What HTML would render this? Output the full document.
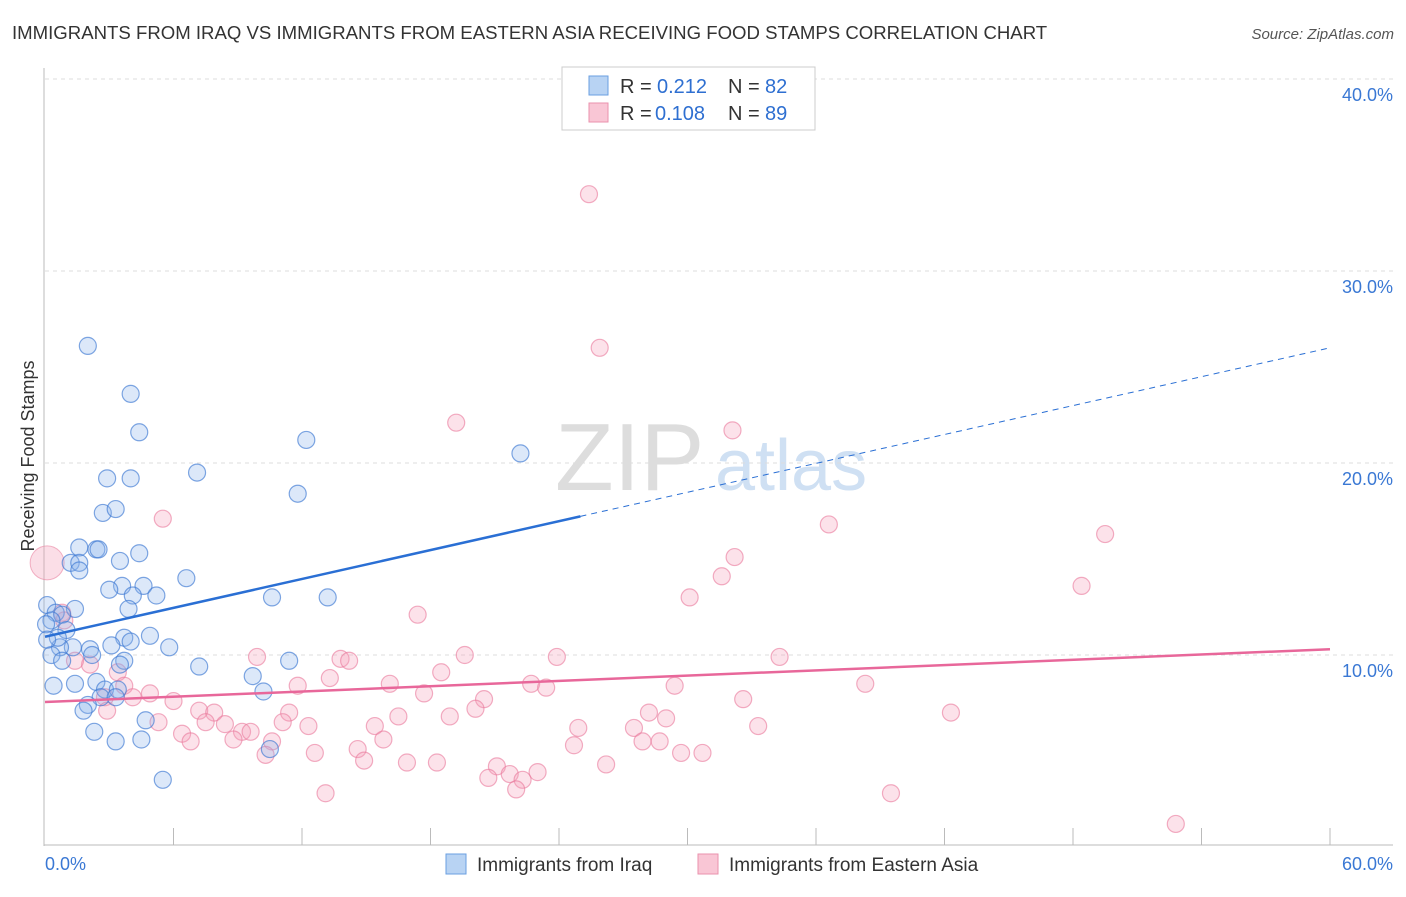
<!DOCTYPE html>
<html><head><meta charset="utf-8"><style>
body{margin:0;background:#fff;font-family:"Liberation Sans",sans-serif}
svg text{font-family:"Liberation Sans",sans-serif}
</style></head><body>
<svg id="chart" width="1406" height="892">
<text x="12" y="39" font-size="18.6" fill="#333">IMMIGRANTS FROM IRAQ VS IMMIGRANTS FROM EASTERN ASIA RECEIVING FOOD STAMPS CORRELATION CHART</text>
<text x="1394" y="39" font-size="15" fill="#555" font-style="italic" text-anchor="end">Source: ZipAtlas.com</text>
<g><text x="555" y="490" font-size="96" fill="#ddd" font-family="Liberation Serif">ZIP</text><text x="715" y="490" font-size="72" fill="#cfe0f3">atlas</text></g>
<g id="grid"></g><g id="axes"></g><g id="pts"></g><g id="trend"></g>
<text x="34" y="456" font-size="18" fill="#333" transform="rotate(-90 34 456)" text-anchor="middle">Receiving Food Stamps</text>
<g>
<rect x="562" y="67" width="253" height="63" fill="#fff" stroke="#ccc"/>
<rect x="589" y="76" width="19" height="19" fill="#b8d3f3" stroke="#6a9fe0"/>
<rect x="589" y="103" width="19" height="19" fill="#f9c6d5" stroke="#ea92ad"/>
<text x="620" y="93" font-size="20" fill="#333">R =</text><text x="657" y="93" font-size="20" fill="#2e6fd1">0.212</text>
<text x="728" y="93" font-size="20" fill="#333">N =</text><text x="765" y="93" font-size="20" fill="#2e6fd1">82</text>
<text x="620" y="120" font-size="20" fill="#333">R =</text><text x="655" y="120" font-size="20" fill="#2e6fd1">0.108</text>
<text x="728" y="120" font-size="20" fill="#333">N =</text><text x="765" y="120" font-size="20" fill="#2e6fd1">89</text>
</g>
<g>
<rect x="446" y="854" width="20" height="20" fill="#b8d3f3" stroke="#6a9fe0"/>
<text x="477" y="871" font-size="19" fill="#333">Immigrants from Iraq</text>
<rect x="698" y="854" width="20" height="20" fill="#f9c6d5" stroke="#ea92ad"/>
<text x="729" y="871" font-size="19" fill="#333">Immigrants from Eastern Asia</text>
</g>
</svg>
<script>
const blueX=[2.0,4.0,4.4,12.2,7.1,2.9,4.0,11.8,22.2,2.7,3.3,2.4,1.6,2.5,4.4,3.5,1.2,1.6,1.6,6.6,3.6,3.0,4.6,4.1,5.2,10.6,13.2,3.9,1.4,0.1,0.5,0.8,1.0,0.3,0.05,4.9,3.7,5.8,4.0,3.1,2.1,1.3,0.7,0.3,2.2,3.7,3.5,7.2,11.4,9.7,2.4,0.4,1.4,2.8,3.4,10.2,2.6,3.3,2.0,1.8,4.7,2.3,3.3,4.5,10.5,5.5,0.8,0.6,0.1];
const blueY=[26.1,23.6,21.6,21.2,19.5,19.2,19.2,18.4,20.5,17.4,17.6,15.5,15.6,15.5,15.3,14.9,14.8,14.8,14.4,14.0,13.6,13.4,13.6,13.1,13.1,13.0,13.0,12.4,12.4,12.6,12.2,12.1,11.3,11.8,11.6,11.0,10.9,10.4,10.7,10.5,10.3,10.4,10.4,10.0,10.0,9.7,9.5,9.4,9.7,8.9,8.6,8.4,8.5,8.2,8.2,8.1,7.8,7.8,7.4,7.1,6.6,6.0,5.5,5.6,5.1,3.5,9.7,10.9,10.8];
const pinkX=[25.4,25.9,19.2,32.1,5.5,36.6,49.5,32.2,31.6,48.4,30.1,17.4,0.8,0.9,9.9,13.8,14.2,19.6,23.9,34.3,18.5,2.1,1.4,3.4,13.3,16.1,11.8,22.7,23.4,29.4,38.3,3.7,2.8,4.1,4.9,17.7,20.5,32.6,2.9,6.0,7.2,7.9,11.4,20.1,16.5,18.9,28.2,29.0,42.3,5.3,7.5,8.4,11.1,12.3,15.4,24.9,27.5,33.3,6.4,9.2,9.6,6.8,8.8,10.6,15.8,24.7,27.9,28.7,14.6,10.3,12.6,14.9,16.9,18.3,26.2,29.7,30.7,21.1,20.7,21.7,23.0,22.3,22.0,13.1,39.5,52.8];
const pinkY=[34.0,26.0,22.1,21.7,17.1,16.8,16.3,15.1,14.1,13.6,13.0,12.1,12.2,11.8,9.9,9.8,9.7,10.0,9.9,9.9,9.1,9.5,9.7,9.1,8.8,8.5,8.4,8.5,8.3,8.4,8.5,8.4,7.8,7.8,8.0,8.0,7.7,7.7,7.1,7.6,7.1,7.0,7.0,7.2,6.8,6.8,7.0,6.7,7.0,6.5,6.5,6.4,6.5,6.3,6.3,6.2,6.2,6.3,5.9,6.0,6.0,5.5,5.6,5.5,5.6,5.3,5.5,5.5,5.1,4.8,4.9,4.5,4.4,4.4,4.3,4.9,4.9,4.2,3.6,3.8,3.9,3.5,3.0,2.8,2.8,1.2];
const bigPink=[0.1,14.8];
const yTicks=[10,20,30,40];
const xTicks=[0,6,12,18,24,30,36,42,48,54,60];
const blueTrend=[10.95,26.0];const blueSolidEnd=25.0;
const pinkTrend=[7.55,10.3];
const NS="http://www.w3.org/2000/svg";
const X=v=>45+v/60*1285, Y=v=>847-v*19.2;
function mk(t,a,p){const e=document.createElementNS(NS,t);for(const k in a)e.setAttribute(k,a[k]);p.appendChild(e);return e;}
const grid=document.getElementById('grid'),axes=document.getElementById('axes'),pts=document.getElementById('pts'),tr=document.getElementById('trend');
yTicks.forEach(t=>{const l=mk('line',{x1:45,x2:1393,y1:Y(t),y2:Y(t),stroke:'#ddd','stroke-dasharray':'4,4'},grid);


const tx=mk('text',{x:1393,y:Y(t)+22,'font-size':18,fill:'#3a78d4','text-anchor':'end'},grid);tx.textContent=t.toFixed(1)+'%';

});
mk('line',{x1:44,x2:44,y1:68,y2:846,stroke:'#bbb'},axes);
mk('line',{x1:44,x2:1393,y1:845,y2:845,stroke:'#bbb'},axes);
xTicks.forEach(t=>{if(t>0)mk('line',{x1:X(t),x2:X(t),y1:828,y2:845,stroke:'#bbb'},axes);});
[[0,'0.0%',45,'start'],[60,'60.0%',1393,'end']].forEach(d=>{const tx=mk('text',{x:d[2],y:870,'font-size':18,fill:'#3a78d4','text-anchor':d[3]},axes);tx.textContent=d[1];

});
const bp=mk('circle',{cx:X(bigPink[0]),cy:Y(bigPink[1]),r:17,fill:'rgba(244,160,185,0.35)',stroke:'rgba(234,130,160,0.6)'},pts);


pinkX.forEach((x,i)=>{const c=mk('circle',{cx:X(x),cy:Y(pinkY[i]),r:8.5,fill:'rgba(244,160,185,0.3)',stroke:'rgba(234,120,155,0.6)','stroke-width':1.2},pts);

});
blueX.forEach((x,i)=>{const c=mk('circle',{cx:X(x),cy:Y(blueY[i]),r:8.5,fill:'rgba(140,180,235,0.3)',stroke:'rgba(60,120,210,0.65)','stroke-width':1.2},pts);

});
const bAt=x=>blueTrend[0]+(blueTrend[1]-blueTrend[0])*x/60;
const l1=mk('line',{x1:X(0),y1:Y(bAt(0)),x2:X(blueSolidEnd),y2:Y(bAt(blueSolidEnd)),stroke:'#2a6fd4','stroke-width':2.5},tr);


const l2=mk('line',{x1:X(blueSolidEnd),y1:Y(bAt(blueSolidEnd)),x2:X(60),y2:Y(bAt(60)),stroke:'#2a6fd4','stroke-width':1,'stroke-dasharray':'6,5'},tr);


const l3=mk('line',{x1:X(0),y1:Y(pinkTrend[0]),x2:X(60),y2:Y(pinkTrend[1]),stroke:'#e8679a','stroke-width':2.5},tr);


</script>
</body></html>
